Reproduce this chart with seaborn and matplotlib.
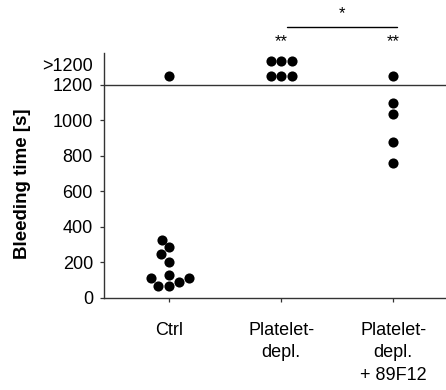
import matplotlib
matplotlib.use("Agg")
import matplotlib.pyplot as plt
import seaborn as sns
import pandas as pd

sns.set_theme(style="ticks")
plt.rcParams['font.family'] = ['Liberation Sans', 'DejaVu Sans']
plt.rcParams['text.color'] = 'black'
plt.rcParams['axes.labelcolor'] = 'black'
plt.rcParams['xtick.color'] = 'black'
plt.rcParams['ytick.color'] = 'black'

# Data (values above 1200 s are censored; drawn in the ">1200" band)
groups = ["Ctrl", "Platelet-\ndepl.", "Platelet-\ndepl.\n+ 89F12"]
ctrl = [326, 285, 245, 205, 127, 110, 110, 69, 69, 88, 1250]
platelet_depl = [1250, 1250, 1250, 1330, 1330, 1330]
platelet_depl_89f12 = [1246, 1096, 1037, 879, 761]
yticks = [0, 200, 400, 600, 800, 1000, 1200]
censor_label = ">1200"
censor_label_pos = 1315

df = pd.DataFrame({
    "group": [groups[0]] * len(ctrl) + [groups[1]] * len(platelet_depl)
             + [groups[2]] * len(platelet_depl_89f12),
    "time": ctrl + platelet_depl + platelet_depl_89f12,
})

fig = plt.figure(figsize=(4.46, 3.90), dpi=100)
ax = fig.add_axes([0.2332, 0.2359, 0.7668, 0.6281])

sns.swarmplot(data=df, x="group", y="time", order=groups, color="black",
              size=7.3, linewidth=0, ax=ax, zorder=3)

ax.axhline(1200, color="#333333", lw=1.0, zorder=2)

ax.set_ylim(0, 1377)
ax.set_xlim(-0.58, 2.47)
ax.set_yticks(yticks + [censor_label_pos])
ax.set_yticklabels([str(v) for v in yticks] + [censor_label])
ax.yaxis.get_major_ticks()[-1].tick1line.set_visible(False)

ax.set_xlabel("")
ax.set_ylabel("Bleeding time [s]", fontsize=13.5, fontweight="bold")
ax.yaxis.set_label_coords(-0.214, 0.465)
ax.tick_params(axis="both", labelsize=13, length=3, width=0.9, color="#333333", pad=5)
ax.tick_params(axis="x", pad=14)
for lbl in ax.get_xticklabels():
    lbl.set_linespacing(1.44)
for s in ["top", "right"]:
    ax.spines[s].set_visible(False)
for s in ["left", "bottom"]:
    ax.spines[s].set_linewidth(1.0)
    ax.spines[s].set_color("#333333")

# Significance annotations
ax.text(1, 1440, "**", ha="center", va="center", fontsize=12, clip_on=False)
ax.text(2, 1440, "**", ha="center", va="center", fontsize=12, clip_on=False)
ax.plot([1.05, 2.03], [1525, 1525], color="black", lw=1.0, clip_on=False)
ax.text(1.54, 1600, "*", ha="center", va="center", fontsize=12, clip_on=False)

fig.savefig("out.png", dpi=100)
